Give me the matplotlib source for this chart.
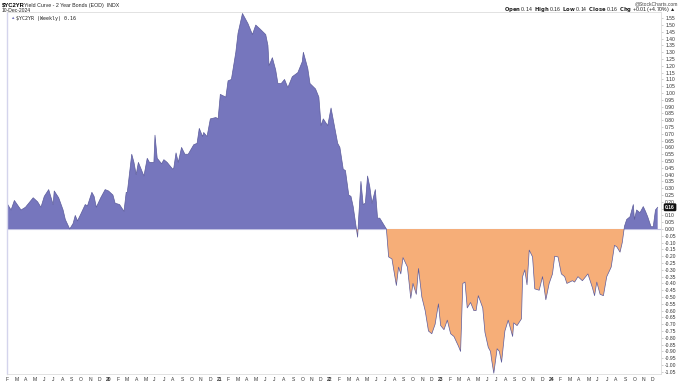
import matplotlib
matplotlib.use("Agg")
import matplotlib.pyplot as plt
import numpy as np

plt.rcParams["font.family"] = ["Liberation Sans", "DejaVu Sans"]

# weekly spread (decimal year, value)
t = [
    2019.09, 2019.12, 2019.15, 2019.21, 2019.25, 2019.32, 2019.36, 2019.39, 2019.42, 2019.46,
    2019.50, 2019.51, 2019.55, 2019.59, 2019.61, 2019.65, 2019.68, 2019.70, 2019.72, 2019.75,
    2019.79, 2019.81, 2019.85, 2019.87, 2019.89, 2019.93, 2019.97, 2020.00, 2020.04, 2020.06,
    2020.10, 2020.14, 2020.16, 2020.17, 2020.21, 2020.23, 2020.25, 2020.27, 2020.32, 2020.35,
    2020.37, 2020.41, 2020.42, 2020.44, 2020.48, 2020.50, 2020.53, 2020.56, 2020.58, 2020.59,
    2020.61, 2020.63, 2020.66, 2020.69, 2020.72, 2020.77, 2020.80, 2020.82, 2020.85, 2020.86,
    2020.89, 2020.92, 2020.97, 2020.99, 2021.01, 2021.06, 2021.08, 2021.11, 2021.15, 2021.17,
    2021.21, 2021.24, 2021.26, 2021.30, 2021.33, 2021.37, 2021.42, 2021.44, 2021.45, 2021.48,
    2021.51, 2021.53, 2021.56, 2021.59, 2021.62, 2021.66, 2021.71, 2021.75, 2021.76, 2021.80,
    2021.82, 2021.87, 2021.90, 2021.92, 2021.94, 2021.98, 2022.01, 2022.04, 2022.07, 2022.09,
    2022.12, 2022.14, 2022.17, 2022.19, 2022.21, 2022.25, 2022.26, 2022.28, 2022.30, 2022.32,
    2022.34, 2022.36, 2022.38, 2022.41, 2022.43, 2022.45, 2022.48, 2022.51, 2022.53, 2022.56,
    2022.57, 2022.60, 2022.62, 2022.64, 2022.66, 2022.70, 2022.73, 2022.75, 2022.78, 2022.80,
    2022.83, 2022.86, 2022.89, 2022.92, 2022.95, 2022.98, 2023.00, 2023.03, 2023.06, 2023.09,
    2023.12, 2023.16, 2023.18, 2023.20, 2023.22, 2023.24, 2023.27, 2023.30, 2023.32, 2023.34,
    2023.38, 2023.40, 2023.43, 2023.45, 2023.46, 2023.48, 2023.51, 2023.53, 2023.55, 2023.58,
    2023.61, 2023.65, 2023.66, 2023.69, 2023.73, 2023.74, 2023.76, 2023.78, 2023.80, 2023.83,
    2023.85, 2023.89, 2023.92, 2023.95, 2023.98, 2024.01, 2024.03, 2024.06, 2024.09, 2024.12,
    2024.14, 2024.19, 2024.21, 2024.24, 2024.28, 2024.31, 2024.33, 2024.37, 2024.39, 2024.41,
    2024.44, 2024.47, 2024.50, 2024.54, 2024.57, 2024.59, 2024.62, 2024.64, 2024.66, 2024.68,
    2024.71, 2024.74, 2024.75, 2024.77, 2024.80, 2024.83, 2024.85, 2024.87, 2024.90, 2024.92,
    2024.94, 2024.96,
]
spread = [
    0.18, 0.14, 0.21, 0.14, 0.16, 0.23, 0.20, 0.16, 0.24, 0.29,
    0.18, 0.28, 0.23, 0.14, 0.07, 0.00, 0.04, 0.10, 0.06, 0.11,
    0.18, 0.17, 0.27, 0.24, 0.16, 0.23, 0.29, 0.28, 0.25, 0.19,
    0.18, 0.13, 0.27, 0.27, 0.55, 0.49, 0.40, 0.49, 0.39, 0.52,
    0.49, 0.49, 0.69, 0.52, 0.48, 0.51, 0.49, 0.46, 0.44, 0.45,
    0.56, 0.49, 0.60, 0.55, 0.55, 0.62, 0.63, 0.74, 0.68, 0.71,
    0.68, 0.81, 0.82, 0.81, 0.99, 0.97, 1.09, 1.10, 1.30, 1.44,
    1.585, 1.54, 1.51, 1.43, 1.50, 1.47, 1.43, 1.35, 1.20, 1.26,
    1.17, 1.07, 1.07, 1.10, 1.04, 1.12, 1.15, 1.23, 1.30, 1.18,
    1.07, 1.03, 0.97, 0.76, 0.81, 0.76, 0.89, 0.76, 0.63, 0.60,
    0.44, 0.43, 0.25, 0.24, 0.165, -0.06, 0.09, 0.35, 0.18, 0.19,
    0.39, 0.31, 0.19, 0.29, 0.08, 0.08, 0.04, 0.00, -0.205, -0.22,
    -0.27, -0.415, -0.28, -0.33, -0.21, -0.28, -0.51, -0.40, -0.48, -0.29,
    -0.50, -0.60, -0.75, -0.77, -0.70, -0.55, -0.71, -0.74, -0.67, -0.77,
    -0.79, -0.86, -0.90, -0.40, -0.39, -0.58, -0.54, -0.60, -0.60, -0.49,
    -0.58, -0.76, -0.87, -0.90, -0.96, -1.06, -0.88, -0.90, -0.98, -0.75,
    -0.67, -0.79, -0.69, -0.71, -0.66, -0.35, -0.30, -0.41, -0.155, -0.205,
    -0.44, -0.45, -0.35, -0.52, -0.40, -0.33, -0.20, -0.205, -0.33, -0.35,
    -0.40, -0.38, -0.39, -0.35, -0.38, -0.35, -0.33, -0.43, -0.49, -0.39,
    -0.48, -0.49, -0.35, -0.28, -0.12, -0.13, -0.17, -0.10, 0.02, 0.07,
    0.09, 0.18, 0.07, 0.14, 0.12, 0.165, 0.13, 0.09, 0.017, 0.017,
    0.14, 0.16,
]

month_letters = ["J", "F", "M", "A", "M", "J", "J", "A", "S", "O", "N", "D"]
years = [2019, 2020, 2021, 2022, 2023, 2024]
last_value = 0.16

BLUE = "#7676bd"
ORANGE = "#f6ae78"
EDGE = "#5c5c9c"

t = np.array(t)
spread = np.array(spread)

fig = plt.figure(figsize=(6.8, 3.83), dpi=100)
ax = fig.add_axes([7 / 680, 1 - 374 / 383, 654 / 680, 362 / 383])

ax.fill_between(t, spread, 0, where=spread >= 0, interpolate=True,
                color=BLUE, linewidth=0)
ax.fill_between(t, spread, 0, where=spread <= 0, interpolate=True,
                color=ORANGE, linewidth=0)
ax.plot(t, spread, color=EDGE, lw=0.5)
ax.axhline(0, color="#c4c4e4", lw=0.8, zorder=0)

ax.set_xlim(2019.09, 2024.99)
ax.set_ylim(-1.066, 1.596)

# month ticks, year number in place of January
xt, xl = [], []
for y in years:
    for m in range(12):
        pos = y + m / 12
        if pos < 2019.08:
            continue
        xt.append(pos)
        xl.append(str(y)[2:] if m == 0 else month_letters[m])
ax.set_xticks(xt)
ax.set_xticklabels(xl, fontsize=3.6, color="#333333")
for lab in ax.get_xticklabels():
    if lab.get_text().isdigit():
        lab.set_fontweight("bold")
ax.tick_params(axis="x", length=0, pad=2.5)

# price scale; the label under the current-value tag is hidden like on the site
yt = np.round(np.arange(-1.05, 1.551, 0.05), 2)
ax.yaxis.tick_right()
ax.set_yticks(yt)
ax.set_yticklabels(["" if abs(v - last_value) < 0.03 else f"{v:.2f}" for v in yt],
                   fontsize=3.6, color="#333333")
ax.tick_params(axis="y", length=1.5, width=0.4, color="#aaaaaa", pad=1.5)

for side in ["top", "right", "bottom"]:
    ax.spines[side].set_color("#dddddd")
    ax.spines[side].set_linewidth(0.6)
ax.spines["left"].set_color("#d4d4ec")
ax.spines["left"].set_linewidth(1.0)

# current value tag
ax.annotate(f"{last_value:.2f}", xy=(1.0, last_value), xycoords=("axes fraction", "data"),
            xytext=(3, 0), textcoords="offset points", va="center", ha="left",
            fontsize=3.6, fontweight="bold", color="white",
            bbox=dict(boxstyle="round,pad=0.15", fc="#111111", ec="#111111"))

# header
fig.text(2 / 680, 1 - 5 / 383, "$YC2YR", fontsize=4.2, fontweight="bold", va="center")
fig.text(24 / 680, 1 - 5 / 383, "Yield Curve - 2 Year Bonds (EOD)  INDX", fontsize=3.8,
         va="center", color="#222222")
fig.text(2 / 680, 1 - 11 / 383, "10-Dec-2024", fontsize=3.6, va="center", color="#222222")
ax.text(0.004, 0.99, "\u25b2", transform=ax.transAxes, fontsize=3.2, color=BLUE,
        va="top", ha="left")
ax.text(0.013, 0.99, f"$YC2YR (Weekly) {last_value:.2f}", transform=ax.transAxes,
        fontsize=3.6, va="top", ha="left", color="#222222", family="DejaVu Sans Mono")

fig.text(678 / 680, 1 - 4 / 383, "@StockCharts.com", fontsize=3.6, ha="right",
         va="center", color="#444444")
fig.text(676 / 680, 1 - 10 / 383,
         r"$\bf{Open}$ 0.14  $\bf{High}$ 0.16  $\bf{Low}$ 0.14  $\bf{Close}$ 0.16  "
         r"$\bf{Chg}$ +0.01 (+4.70%) ▲",
         fontsize=3.8, ha="right", va="center", color="#222222")

fig.savefig("out.png", dpi=100)
